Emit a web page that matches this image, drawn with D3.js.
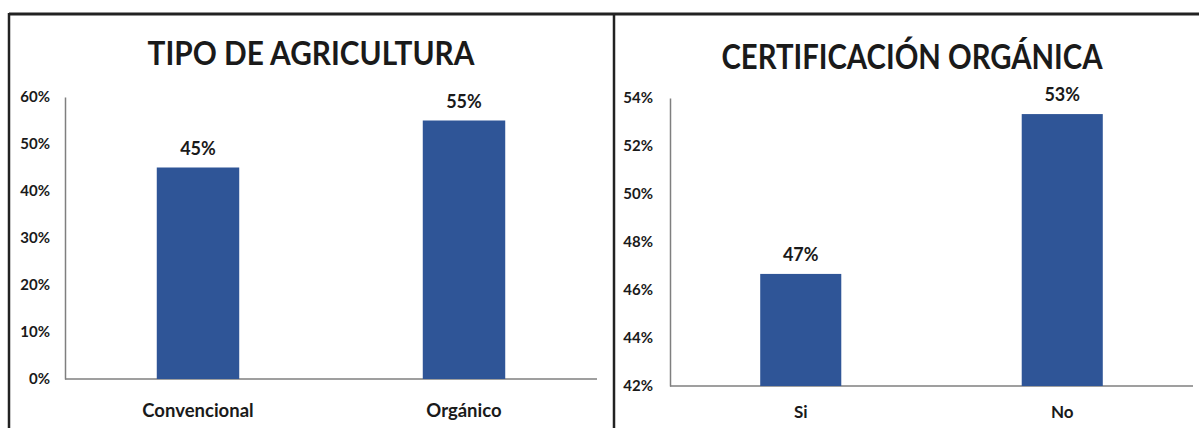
<!DOCTYPE html>
<html>
<head>
<meta charset="utf-8">
<script src="https://cdn.jsdelivr.net/npm/d3@7/dist/d3.min.js"></script>
<style>
  html, body { margin: 0; padding: 0; background: #fff; }
  svg { display: block; }
  text { font-family: Lato, "Open Sans", sans-serif; font-weight: bold; fill: #1a1a1a; }
</style>
</head>
<body>
<svg id="chart" width="1199" height="428"></svg>
<script>
// ---- data ----
const titles = ["TIPO DE AGRICULTURA", "CERTIFICACIÓN ORGÁNICA"];
const categories1 = ["Convencional", "Orgánico"];
const values1 = [0.45, 0.55];
const ticks1 = [0, 0.1, 0.2, 0.3, 0.4, 0.5, 0.6];
const categories2 = ["Si", "No"];
const values2 = [0.4667, 0.5333];
const ticks2 = [0.42, 0.44, 0.46, 0.48, 0.50, 0.52, 0.54];

const svg = d3.select("#chart");
const barColor = "#2F5597";
const fmt = d3.format(".0%");

// panel frames
svg.append("line").attr("x1", 9).attr("x2", 1199).attr("y1", 14).attr("y2", 14)
  .attr("stroke", "#222").attr("stroke-width", 3);
svg.append("line").attr("x1", 9).attr("x2", 9).attr("y1", 13).attr("y2", 428)
  .attr("stroke", "#222").attr("stroke-width", 2.5);
svg.append("line").attr("x1", 614).attr("x2", 614).attr("y1", 13).attr("y2", 428)
  .attr("stroke", "#222").attr("stroke-width", 2.5);

function panel(cfg) {
  const g = svg.append("g");
  const x = d3.scaleBand().domain(cfg.cats).range([cfg.x0, cfg.x1]).padding(0);
  const y = d3.scaleLinear().domain(cfg.domain).range([cfg.yBottom, cfg.yTop]);
  const bw = x.bandwidth() * 0.31;

  // title
  g.append("text").attr("x", cfg.titleX).attr("y", cfg.titleY)
    .attr("text-anchor", "middle").style("font-size", cfg.titleSize + "px")
    .attr("textLength", cfg.titleLen).attr("lengthAdjust", "spacingAndGlyphs")
    .text(cfg.title);

  // y axis
  const ya = g.append("g").attr("transform", `translate(${cfg.x0},0)`)
    .call(d3.axisLeft(y).tickValues(cfg.ticks).tickFormat(fmt).tickSize(0).tickPadding(cfg.tickPad));
  ya.select(".domain").attr("stroke", "#7f7f7f").attr("stroke-width", 1.5);
  ya.selectAll("text").style("font-size", cfg.tickSize + "px").style("font-family", "Lato, sans-serif")
    .style("font-weight", "bold").attr("fill", "#1a1a1a");

  // x axis line
  g.append("line").attr("x1", cfg.x0).attr("x2", cfg.x1)
    .attr("y1", y(cfg.domain[0])).attr("y2", y(cfg.domain[0]))
    .attr("stroke", "#7f7f7f").attr("stroke-width", 1.5);

  // bars
  g.selectAll("rect.bar").data(cfg.vals).join("rect").attr("class", "bar")
    .attr("x", (d, i) => x(cfg.cats[i]) + x.bandwidth() / 2 - bw / 2)
    .attr("width", bw)
    .attr("y", d => y(d))
    .attr("height", d => y(cfg.domain[0]) - y(d))
    .attr("fill", barColor);

  // value labels
  g.selectAll("text.val").data(cfg.vals).join("text").attr("class", "val")
    .attr("x", (d, i) => x(cfg.cats[i]) + x.bandwidth() / 2)
    .attr("y", d => y(d) - 13)
    .attr("text-anchor", "middle").style("font-size", cfg.valSize + "px")
    .text(d => fmt(d));

  // category labels
  g.selectAll("text.cat").data(cfg.cats).join("text").attr("class", "cat")
    .attr("x", d => x(d) + x.bandwidth() / 2)
    .attr("y", cfg.catY)
    .attr("text-anchor", "middle").style("font-size", cfg.catSize + "px")
    .text(d => d);
}

panel({
  title: titles[0], cats: categories1, vals: values1, ticks: ticks1,
  domain: [0, 0.6], x0: 65, x1: 597, yBottom: 379, yTop: 97,
  titleX: 311, titleY: 65, titleSize: 33, titleLen: 327, tickSize: 15, tickPad: 15,
  valSize: 18, catSize: 18.5, catY: 417
});
panel({
  title: titles[1], cats: categories2, vals: values2, ticks: ticks2,
  domain: [0.42, 0.54], x0: 670, x1: 1193, yBottom: 386, yTop: 98,
  titleX: 912, titleY: 69, titleSize: 35, titleLen: 381, tickSize: 15, tickPad: 17,
  valSize: 18, catSize: 17, catY: 418
});
</script>
</body>
</html>
